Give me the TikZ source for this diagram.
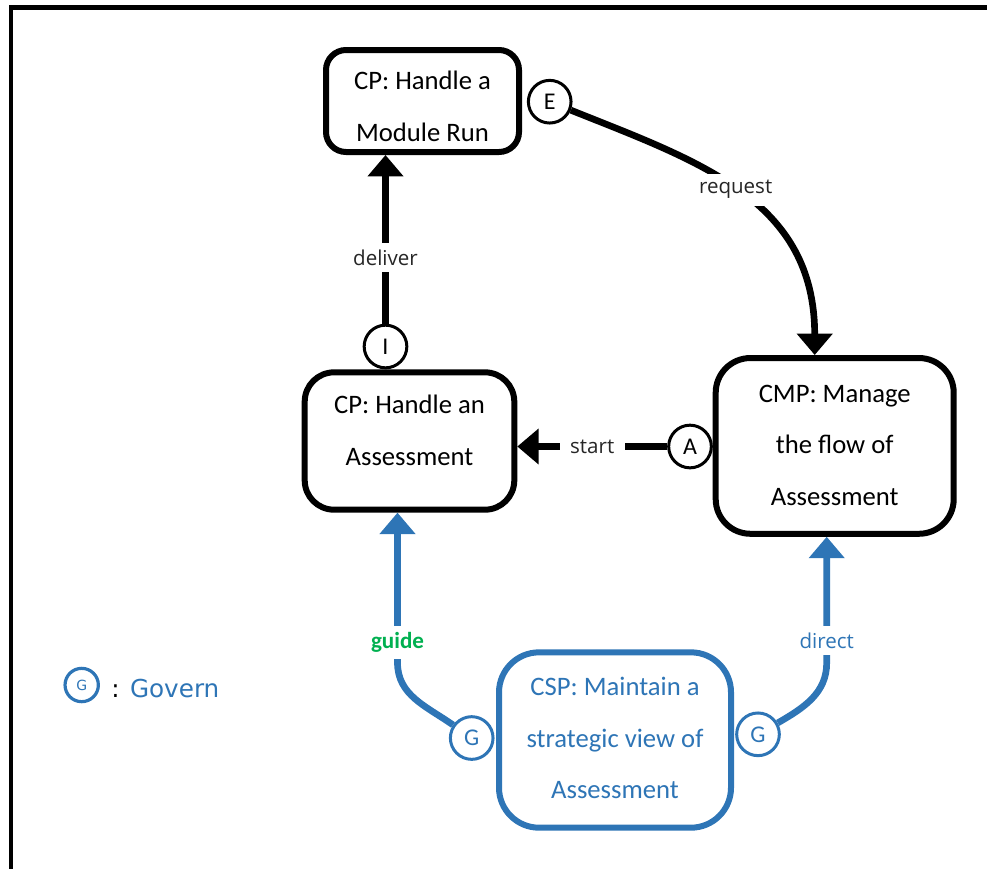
\documentclass[tikz,border=0pt]{standalone}
\usepackage{fontspec}
\setmainfont{Carlito}
\newfontfamily\lblfont{Open Sans}
\newfontfamily\legendfont{DejaVu Sans}
\usetikzlibrary{arrows.meta,calc}
\definecolor{govblue}{HTML}{2E75B6}
\definecolor{guidegreen}{HTML}{00B050}
\definecolor{lbltext}{HTML}{262626}

\begin{document}
\begin{tikzpicture}[x=0.75pt,y=0.75pt,
  procbox/.style={draw, line width=4.5pt, fill=white, align=center,
    font=\fontsize{20}{38.5}\selectfont, text depth=0pt, inner sep=0pt},
  port/.style={circle, draw, line width=2.25pt, fill=white, minimum size=32pt,
    inner sep=0pt, font=\fontsize{18}{18}\selectfont},
  govport/.style={port, draw=govblue, text=govblue},
  conn/.style={line width=5pt, -{Triangle[width=26pt,length=16pt]}},
  govconn/.style={conn, draw=govblue, color=govblue},
  lbl/.style={fill=white, font=\lblfont\fontsize{15.4}{18}\selectfont,
    text=lbltext, inner xsep=8pt, inner ysep=5pt},
  ]
\useasboundingbox (0,0) rectangle (987,-868);

% frame
\draw[line width=3.5pt] (11,-880) -- (11,-7.5) -- (1000,-7.5);

% process boxes (text height places the last line's baseline)
\node[procbox, minimum width=144.75pt, minimum height=76.5pt,
  rounded corners=15pt, text height=60pt] (run) at (422.5,-101)
  {CP: Handle a\\Module Run};
\node[procbox, minimum width=157.2pt, minimum height=103pt,
  rounded corners=22pt, text height=36.4pt] (assess) at (409.5,-441)
  {CP: Handle an\\Assessment};
\node[procbox, minimum width=178.5pt, minimum height=131.8pt,
  rounded corners=26pt, text height=89pt] (flow) at (834.7,-445.9)
  {CMP: Manage\\the flow of\\Assessment};
\node[procbox, draw=govblue, text=govblue, minimum width=174pt,
  minimum height=131.5pt, rounded corners=30pt, text height=87.8pt]
  (strat) at (615,-740)
  {CSP: Maintain a\\strategic view of\\Assessment};

% ports
\node[port] (E) at (549.7,-101.7) {E};
\node[port] (I) at (385.5,-346.5) {I};
\node[port] (A) at (690,-446.5) {A};
\node[govport] (Gl) at (471.7,-738) {G};
\node[govport] (Gr) at (758,-734.3) {G};

% connectors
\draw[conn] (E) .. controls ($(E)+(150,-60)$) and ($(flow.north)+(-20,155)$)
  .. node[lbl, pos=0.48] {request} ($(flow.north)+(-20,0)$);
\draw[conn] (I) -- node[lbl, pos=0.39] {deliver} (I |- run.south);
\draw[conn] (A) -- node[lbl, pos=0.5] {start} (A -| assess.east);

\coordinate (gtop) at ($(assess.south)+(-12,0)$);
\coordinate (dtop) at ($(flow.south)+(-8,0)$);
\draw[govconn] (Gl) to[out=145,in=-90] ($(gtop)+(0,-150)$)
  -- node[pos=0.133, fill=white, inner xsep=6pt, inner ysep=5pt,
     text=guidegreen, font=\bfseries\fontsize{17.3}{20}\selectfont] {guide} (gtop);
\draw[govconn] (Gr) to[out=30,in=-90] ($(dtop)+(0,-126)$)
  -- node[lbl, pos=0.175, text=govblue] {direct} (dtop);

% legend
\node[circle, draw=govblue, line width=2.4pt, minimum size=25pt,
  inner sep=0pt, text=govblue, font=\legendfont\fontsize{10.5}{10.5}\selectfont]
  (legG) at (81.7,-685) {G};
\node[anchor=base west, inner sep=0pt, text=govblue,
  font=\legendfont\fontsize{18.5}{20}\selectfont] (legtext) at (111,-697)
  {\textcolor{black}{:} Govern};
\end{tikzpicture}
\end{document}
